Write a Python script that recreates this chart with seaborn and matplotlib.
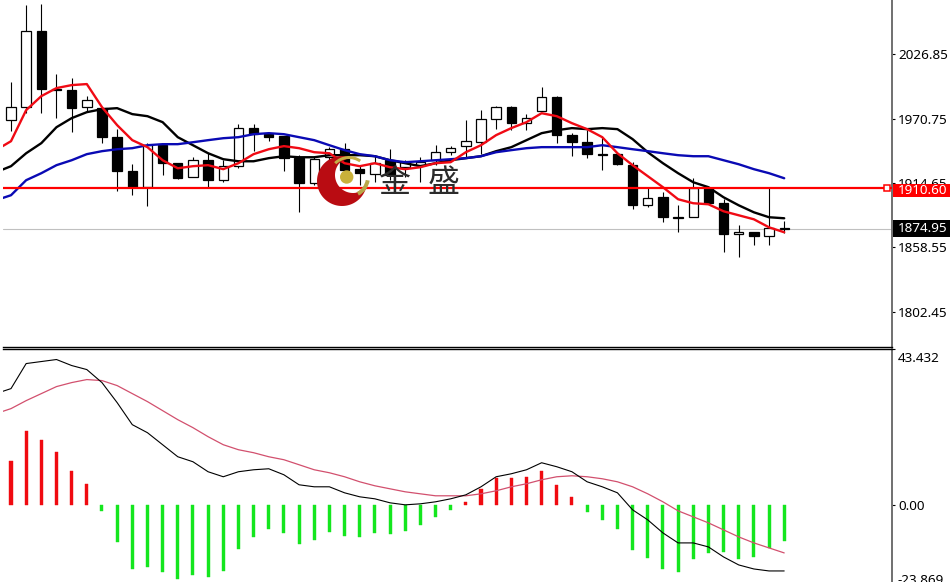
import numpy as np
import pandas as pd
import matplotlib
matplotlib.use("Agg")
import matplotlib.pyplot as plt
from matplotlib.patches import Circle, Polygon, Rectangle, Wedge
import seaborn as sns

# Candles, one value per bar
opens = [1969.4, 1980.8, 2047.1, 1996.5, 1995.6, 1980.8, 1979.9, 1954.6, 1924.9, 1911.0,
         1947.6, 1931.9, 1919.7, 1934.5, 1917.1, 1929.3, 1962.5, 1957.2, 1955.5, 1936.3,
         1914.4, 1937.1, 1944.1, 1926.7, 1922.3, 1934.5, 1928.4, 1930.2, 1934.5, 1941.5,
         1946.8, 1950.2, 1970.3, 1980.8, 1966.8, 1977.3, 1989.5, 1956.4, 1950.2, 1939.8,
         1939.8, 1930.2, 1895.2, 1902.2, 1884.8, 1884.8, 1910.1, 1897.0, 1869.9, 1871.7,
         1868.2, 1875.2]
closes = [1980.8, 2047.1, 1996.5, 1995.6, 1979.9, 1986.9, 1954.6, 1924.9, 1911.0, 1947.6,
          1931.9, 1918.8, 1934.5, 1917.1, 1929.3, 1962.5, 1957.2, 1954.6, 1936.3, 1914.4,
          1935.4, 1944.1, 1925.8, 1923.2, 1931.9, 1921.4, 1932.8, 1932.8, 1941.5, 1945.0,
          1951.1, 1970.3, 1980.8, 1966.8, 1971.2, 1989.5, 1956.4, 1950.2, 1939.8, 1938.9,
          1931.0, 1895.2, 1901.3, 1884.8, 1884.4, 1910.1, 1897.0, 1869.9, 1871.7, 1868.2,
          1875.2, 1874.95]
highs = [2002.6, 2069.8, 2070.7, 2009.6, 2006.1, 1990.4, 1979.9, 1961.6, 1931.0, 1949.4,
         1947.6, 1931.9, 1937.1, 1940.6, 1934.5, 1966.0, 1966.0, 1959.0, 1955.5, 1938.9,
         1937.1, 1945.9, 1949.4, 1930.2, 1938.9, 1944.1, 1934.5, 1937.1, 1947.6, 1946.8,
         1969.4, 1978.2, 1981.7, 1981.7, 1974.7, 1998.2, 1990.4, 1958.1, 1960.7, 1954.6,
         1940.6, 1932.8, 1910.1, 1906.6, 1895.2, 1918.8, 1911.0, 1900.5, 1877.8, 1871.7,
         1911.0, 1881.3]
lows = [1959.8, 1975.5, 1975.5, 1971.2, 1959.0, 1976.4, 1949.4, 1907.4, 1904.0, 1894.4,
        1921.4, 1917.9, 1919.7, 1911.0, 1915.3, 1927.5, 1942.4, 1951.1, 1924.9, 1889.1,
        1912.7, 1934.5, 1924.0, 1912.7, 1915.3, 1917.1, 1919.7, 1915.3, 1930.2, 1938.9,
        1937.1, 1939.8, 1961.6, 1960.7, 1960.7, 1977.3, 1949.4, 1938.0, 1936.3, 1925.8,
        1930.2, 1891.7, 1893.5, 1880.4, 1871.7, 1884.8, 1897.0, 1854.2, 1849.8, 1860.3,
        1860.3, 1870.8]

# Moving averages, first value belongs to the bar just left of the window
ma_red = [1943.3, 1951.1, 1978.2, 1990.4, 1997.4, 2000.0, 2000.9, 1980.8, 1965.1, 1952.0,
          1945.9, 1934.5, 1927.5, 1929.3, 1930.2, 1926.7, 1931.9, 1939.8, 1944.1, 1946.8,
          1945.0, 1941.5, 1940.6, 1931.9, 1929.3, 1931.9, 1928.4, 1926.7, 1928.4, 1931.9,
          1932.8, 1941.5, 1947.6, 1956.4, 1962.5, 1967.7, 1975.5, 1972.9, 1966.8, 1961.6,
          1954.6, 1940.6, 1930.2, 1920.6, 1911.0, 1900.5, 1897.0, 1896.1, 1890.0, 1886.5,
          1883.0, 1876.0, 1871.7]
ma_black = [1924.0, 1929.3, 1940.6, 1949.4, 1963.3, 1971.2, 1976.4, 1979.0, 1979.9, 1974.7,
            1972.9, 1967.7, 1954.6, 1947.6, 1940.6, 1935.4, 1933.6, 1933.6, 1936.3, 1938.0,
            1937.1, 1937.1, 1938.9, 1938.9, 1938.9, 1938.0, 1934.5, 1931.9, 1929.3, 1931.9,
            1934.5, 1936.3, 1938.0, 1942.4, 1945.9, 1952.0, 1958.1, 1960.7, 1962.5, 1961.6,
            1962.5, 1961.6, 1952.9, 1941.5, 1931.9, 1923.2, 1915.3, 1911.0, 1902.2, 1895.2,
            1889.1, 1884.8, 1883.9]
ma_blue = [1899.6, 1904.0, 1917.1, 1923.2, 1930.2, 1934.5, 1939.8, 1942.4, 1944.1, 1945.0,
           1947.6, 1948.5, 1948.5, 1950.2, 1952.0, 1953.7, 1954.6, 1957.2, 1958.1, 1957.2,
           1954.6, 1952.0, 1947.6, 1943.3, 1939.8, 1938.0, 1934.5, 1932.8, 1933.6, 1934.5,
           1935.4, 1936.3, 1938.0, 1941.5, 1943.3, 1945.0, 1945.9, 1945.9, 1945.9, 1945.9,
           1947.6, 1945.9, 1944.1, 1942.4, 1940.6, 1938.9, 1938.0, 1938.0, 1934.5, 1931.0,
           1926.7, 1923.2, 1918.8]

# MACD panel
macd_main = [30.90, 32.29, 39.25, 39.81, 40.37, 38.70, 37.58, 33.96, 28.40, 22.27,
             20.04, 16.70, 13.36, 11.97, 9.19, 7.80, 9.19, 9.74, 10.02, 8.35,
             5.57, 5.01, 5.01, 3.34, 2.23, 1.67, 0.56, 0.0, 0.28, 0.84,
             1.67, 2.78, 5.01, 7.80, 8.63, 9.74, 11.69, 10.58, 9.19, 6.40,
             5.01, 3.34, -1.39, -4.18, -7.80, -10.58, -10.58, -11.69, -14.48, -16.70,
             -17.82, -18.37, -18.37]
macd_signal = [25.33, 26.73, 28.95, 30.90, 32.85, 33.96, 34.80, 34.52, 33.13, 30.90,
               28.68, 26.17, 23.66, 21.44, 18.93, 16.70, 15.31, 14.48, 13.36, 12.53,
               11.14, 9.74, 8.91, 7.80, 6.40, 5.29, 4.45, 3.62, 3.06, 2.51,
               2.51, 2.51, 3.06, 3.90, 5.01, 5.85, 6.96, 7.80, 8.07, 7.80,
               7.24, 6.40, 5.01, 3.06, 0.84, -1.67, -3.34, -5.01, -6.96, -8.91,
               -10.58, -11.97, -13.36]
macd_hist = [12.25, 20.60, 18.10, 14.76, 9.47, 5.85, -1.67, -10.30, -17.82, -17.26,
             -18.65, -20.60, -19.49, -20.04, -18.37, -12.25, -8.91, -6.68, -7.80, -10.86,
             -9.74, -7.52, -8.63, -8.91, -7.80, -8.07, -7.24, -5.57, -3.34, -1.39,
             0.84, 4.45, 7.52, 7.52, 7.80, 9.47, 5.57, 2.23, -1.95, -4.18,
             -6.68, -12.53, -14.76, -17.82, -18.65, -15.03, -13.36, -13.08, -15.03, -14.48,
             -11.97, -10.02]

price_ticks = [2026.85, 1970.75, 1914.65, 1858.55, 1802.45]
level_price = 1910.60
last_price = 1874.95

W, H = 950, 585

sns.set_style("white")
plt.rcParams['font.family'] = ['Noto Sans', 'Noto Sans CJK SC', 'DejaVu Sans']

candles = pd.DataFrame({'bar': np.arange(len(opens)), 'open': opens, 'close': closes,
                        'high': highs, 'low': lows})
lines = pd.DataFrame({'bar': np.arange(-1, len(opens)), 'red': ma_red, 'black': ma_black,
                      'blue': ma_blue, 'main': macd_main, 'signal': macd_signal})
hist = pd.DataFrame({'bar': np.arange(len(macd_hist)), 'value': macd_hist})
hist['side'] = np.where(hist['value'] >= 0, 'up', 'down')

fig = plt.figure(figsize=(W / 100, H / 100), dpi=100, facecolor='white')
ax = fig.add_axes([3 / W, 1 - 346.5 / H, 889 / W, 346.5 / H])
ax2 = fig.add_axes([3 / W, 1 - 582 / H, 889 / W, (582 - 348.5) / H])
xlim = (-0.528, 58.11)

# price panel
ax.vlines(candles['bar'], candles['low'], candles['high'], color='black', linewidth=0.8, zorder=1)
body_low = candles[['open', 'close']].min(axis=1)
body_high = candles[['open', 'close']].max(axis=1)
is_up = candles['close'] >= candles['open']
ax.bar(candles['bar'], body_high - body_low, bottom=body_low, width=0.62,
       color=np.where(is_up, 'white', 'black'), edgecolor='black', linewidth=0.9, zorder=1.5)

sns.lineplot(data=lines, x='bar', y='black', color='black', linewidth=1.7, ax=ax, zorder=3)
sns.lineplot(data=lines, x='bar', y='blue', color='#0a0ab4', linewidth=1.7, ax=ax, zorder=3)
sns.lineplot(data=lines, x='bar', y='red', color='#f00a14', linewidth=1.7, ax=ax, zorder=3)

ax.axhline(last_price, color='#c0c0c0', linewidth=0.8, zorder=0.5)
ax.axhline(level_price, color='#ff0000', linewidth=1.6, zorder=4)
ax.plot([0.994], [level_price], marker='s', markersize=4, mfc='white', mec='#ff0000', mew=1.1,
        transform=ax.get_yaxis_transform(), clip_on=False, zorder=5)

ax.set_xlim(xlim)
ax.set_ylim(1772.1, 2074.2)
ax.set_xticks([])
ax.yaxis.tick_right()
ax.set_yticks(price_ticks, [f"{v:.2f}" for v in price_ticks])
ax.set_xlabel('')
ax.set_ylabel('')

# MACD panel
sns.barplot(data=hist, x='bar', y='value', hue='side', palette={'up': '#f00a10', 'down': '#14e61e'},
            native_scale=True, dodge=False, width=0.2, saturation=1, errorbar=None,
            legend=False, ax=ax2, zorder=1)
for bar in ax2.patches:
    bar.set_edgecolor(bar.get_facecolor())
    bar.set_linewidth(0.3)
sns.lineplot(data=lines, x='bar', y='signal', color='#d2506e', linewidth=0.9, ax=ax2, zorder=3)
sns.lineplot(data=lines, x='bar', y='main', color='black', linewidth=0.8, ax=ax2, zorder=3)
ax2.set_xlim(xlim)
ax2.set_ylim(-21.44, 43.432)
ax2.set_xticks([])
ax2.yaxis.tick_right()
ax2.set_yticks([43.432, 0], ['', '0.00'])
ax2.set_xlabel('')
ax2.set_ylabel('')

for a in (ax, ax2):
    a.patch.set_alpha(0)
    a.tick_params(axis='y', length=2.2, width=0.8, pad=2.2, labelsize=9.7, colors='black')
    a.spines['left'].set_visible(False)
    a.spines['right'].set_color('#707070')
    a.spines['right'].set_linewidth(1.4)
ax.spines['top'].set_visible(False)
ax.spines['bottom'].set_color('black')
ax.spines['bottom'].set_linewidth(1)
ax2.spines['bottom'].set_visible(False)
ax2.spines['top'].set_color('black')
ax2.spines['top'].set_linewidth(1)

# overlay in pixels for the watermark, the price boxes and the cut-off scale labels
over = fig.add_axes([0, 0, 1, 1], zorder=20)
over.set_xlim(0, W)
over.set_ylim(H, 0)
over.axis('off')
over.patch.set_alpha(0)

for value, face, top, bottom in [(level_price, '#ff0000', 184, 197), (last_price, 'black', 220, 237)]:
    over.add_patch(Rectangle((893, top), 57, bottom - top, facecolor=face, edgecolor='none'))
    over.text(898, (top + bottom) / 2, f"{value:.2f}", color='white', fontsize=9.7,
              va='center', ha='left')

over.text(898, 359, '43.432', fontsize=9.7, va='center', ha='left', color='black')
over.text(898, 581, '-23.869', fontsize=9.7, va='center', ha='left', color='black')
over.add_patch(Rectangle((0, 582), W, 3, facecolor='white', edgecolor='none', zorder=5))

# crescent logo
cx, cy, R = 342, 181, 25
ix, iy, r = 353, 175, 18
dist = np.hypot(ix - cx, iy - cy)
base = np.arctan2(iy - cy, ix - cx)
a_out = np.arccos((dist**2 + R**2 - r**2) / (2 * dist * R))
a_in = np.arccos((dist**2 + r**2 - R**2) / (2 * dist * r))
t_out = np.linspace(base + a_out, base + 2 * np.pi - a_out, 80)
t_in = np.linspace(base + 2 * np.pi - a_in, base + a_in, 60)
pts = np.vstack([np.c_[cx + R * np.cos(t_out), cy + R * np.sin(t_out)],
                 np.c_[ix + r * np.cos(t_in), iy + r * np.sin(t_in)]])
over.add_patch(Polygon(pts, closed=True, facecolor='#b90c12', edgecolor='none'))
over.add_patch(Circle((346.7, 177), 6.7, facecolor='#c9b13a', edgecolor='none'))
over.add_patch(Wedge((349, 177), 21, 225, 305, width=3, facecolor='#c4ad45', edgecolor='none'))
over.add_patch(Wedge((349, 177), 21, 10, 62, width=4, facecolor='#b8a848', edgecolor='none'))
for x_pos, ch in [(395.5, '金'), (444, '盛')]:
    over.text(x_pos, 183, ch, fontsize=23, ha='center', va='center', color='#2b2b2b',
              family=['Noto Sans CJK SC', 'DejaVu Sans'])

fig.savefig('out.png', dpi=100)
plt.close(fig)
